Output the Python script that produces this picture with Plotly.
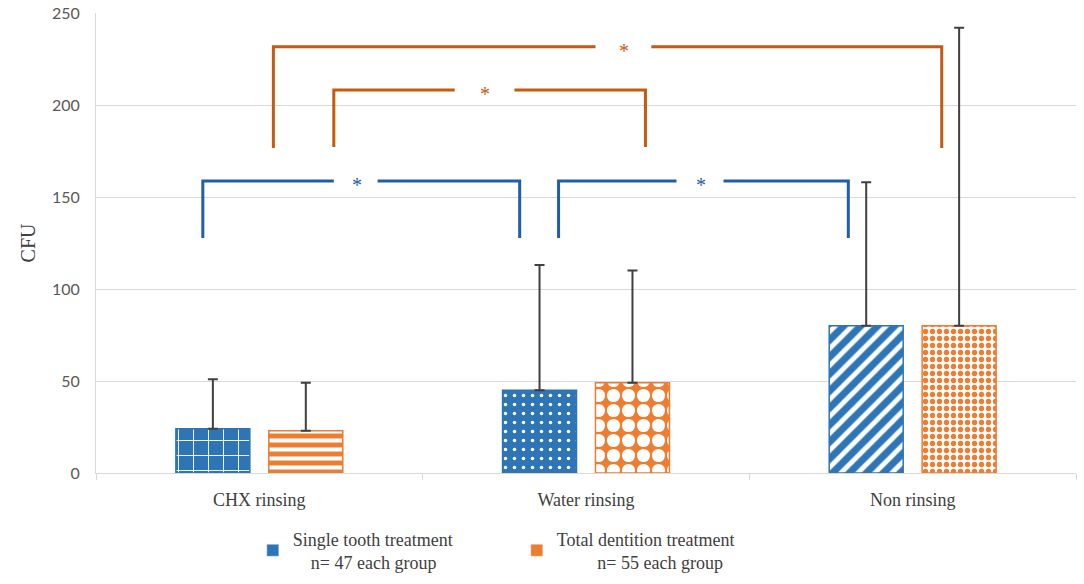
import plotly.graph_objects as go

categories = ["CHX rinsing", "Water rinsing", "Non rinsing"]
single_vals = [24, 45, 80]
single_err = [27, 68, 78]
total_vals = [23, 49, 80]
total_err = [26, 61, 162]
legend_single = "Single tooth treatment<br>\u00a0\u00a0\u00a0\u00a0n= 47 each group"
legend_total = "Total dentition treatment<br>" + "\u00a0" * 9 + "n= 55 each group"
y_ticks = [0, 50, 100, 150, 200, 250]

# significance brackets: (x_left, x_right, y_top, y_bottom, gap_left, gap_right, star_x, color)
brackets = [
    (-0.173, 0.797, 158.7, 127.7, 0.228, 0.362, 0.300, "#1F5EA8"),
    (0.916, 1.803, 158.7, 127.7, 1.277, 1.421, 1.352, "#1F5EA8"),
    (0.228, 1.182, 208.2, 177.2, 0.598, 0.781, 0.690, "#C55A11"),
    (0.043, 2.089, 231.7, 176.6, 1.029, 1.200, 1.116, "#C55A11"),
]

BLUE = "#2E75B6"
ORANGE = "#ED7D31"
SERIF = "Liberation Serif"

fig = go.Figure()
fig.add_trace(go.Bar(
    name=legend_single, x=categories, y=single_vals, offsetgroup="s", showlegend=False,
    marker=dict(
        color=BLUE, line=dict(color=BLUE, width=1.5),
        pattern=dict(shape=["+", ".", "/"], fgcolor="white", bgcolor=BLUE,
                     size=[15, 9, 12], solidity=[0.12, 0.12, 0.4], fillmode="replace"),
    ),
    error_y=dict(type="data", array=single_err, arrayminus=[0, 0, 0], symmetric=False,
                 color="#404040", thickness=2, width=5),
))
fig.add_trace(go.Bar(
    name=legend_total, x=categories, y=total_vals, offsetgroup="t", showlegend=False,
    marker=dict(
        color=ORANGE, line=dict(color=ORANGE, width=1.5),
        pattern=dict(shape=["-", ".", "."], fgcolor=["white", "white", ORANGE],
                     bgcolor=[ORANGE, ORANGE, "white"],
                     size=[9, 15, 7], solidity=[0.45, 0.6, 0.45], fillmode="replace"),
    ),
    error_y=dict(type="data", array=total_err, arrayminus=[0, 0, 0], symmetric=False,
                 color="#404040", thickness=2, width=5),
))
# legend swatches (solid colours, no marks drawn)
fig.add_trace(go.Bar(name=legend_single, x=[categories[0]], y=[None], offsetgroup="s",
                     marker=dict(color=BLUE), showlegend=True))
fig.add_trace(go.Bar(name=legend_total, x=[categories[0]], y=[None], offsetgroup="t",
                     marker=dict(color=ORANGE), showlegend=True))

for xl, xr, yt, yb, gl, gr, sx, col in brackets:
    fig.add_shape(type="path", path=f"M {xl},{yb} L {xl},{yt} L {gl},{yt}",
                  line=dict(color=col, width=3), xref="x", yref="y")
    fig.add_shape(type="path", path=f"M {gr},{yt} L {xr},{yt} L {xr},{yb}",
                  line=dict(color=col, width=3), xref="x", yref="y")
    fig.add_annotation(x=sx, y=yt, text="*", showarrow=False, xref="x", yref="y",
                       font=dict(family=SERIF, size=20, color=col), yshift=-4)

fig.update_layout(
    width=1084, height=584,
    margin=dict(l=96, r=8, t=13, b=111, autoexpand=False),
    paper_bgcolor="white", plot_bgcolor="white",
    barmode="group", bargap=0.431, bargroupgap=0.204,
    showlegend=True,
    legend=dict(orientation="h", x=0.16, xanchor="left", y=-0.103, yanchor="top",
                font=dict(family=SERIF, size=18, color="#404040"),
                entrywidth=219, entrywidthmode="pixels", traceorder="normal",
                itemwidth=30),
    font=dict(family=SERIF, color="#404040"),
)
fig.update_xaxes(
    type="category", showgrid=False, showline=True, linecolor="#D9D9D9", linewidth=1,
    ticks="outside", tickson="boundaries", ticklen=6, tickcolor="#D9D9D9",
    tickfont=dict(family=SERIF, size=18, color="#404040"), range=[-0.5, 2.5],
    ticklabelstandoff=10, automargin=False,
)
fig.update_yaxes(
    range=[0, 250], tickvals=y_ticks, showgrid=True, gridcolor="#D9D9D9", gridwidth=1,
    showline=True, linecolor="#D9D9D9", zeroline=False,
    tickfont=dict(family="Lato", size=16, color="#595959"), ticklabelstandoff=12,
    title=dict(text="CFU", font=dict(family=SERIF, size=20, color="#404040"), standoff=10),
    automargin=False,
)

fig.write_html("out.html", config={"displayModeBar": False},
               post_script="document.body.style.margin='0';document.body.style.overflow='hidden';")
